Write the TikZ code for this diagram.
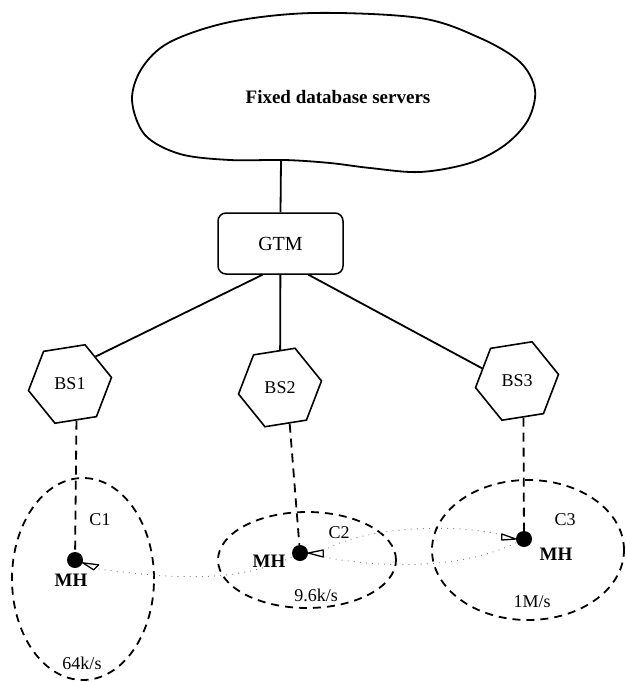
\documentclass[tikz,border=0pt]{standalone}
\usepackage{fontspec}
\setmainfont{Liberation Serif}
\usetikzlibrary{shapes.geometric,calc}

\begin{document}
\begin{tikzpicture}[x=1pt,y=-1pt,
  link/.style={line width=1.8pt},
  radio/.style={line width=1.8pt, dash pattern=on 9pt off 6pt},
  cellring/.style={draw, ellipse, inner sep=0pt, line width=1.8pt,
                   dash pattern=on 8pt off 6pt},
  hexbs/.style={draw, regular polygon, regular polygon sides=6,
                shape border rotate=9, minimum size=84pt, inner sep=0pt,
                line width=1.6pt, font=\fontsize{18}{20}\selectfont},
  mhdot/.style={circle, fill=black, minimum size=16pt, inner sep=0pt},
  mharrow/.style={line width=1.3pt, line join=round},
  track/.style={draw=black!55, line width=1.1pt, line cap=round,
                dash pattern=on 0.1pt off 6pt},
  lbl/.style={inner sep=0pt, font=\fontsize{18}{20}\selectfont},
  lblb/.style={inner sep=0pt, font=\bfseries\fontsize{19}{21}\selectfont}
]
\useasboundingbox (0,0) rectangle (626,682);

% cloud of fixed servers
\draw[link] plot[smooth cycle, tension=0.55] coordinates {
  (313,13) (420,18) (480,38) (520,62) (535,90) (528,120) (505,145)
  (470,163) (420,172) (370,168) (330,163) (285,160) (230,160)
  (180,154) (145,135) (132,100) (142,68) (170,42) (230,22)};
\node[lblb] (fdb) at (338,97) {Fixed database servers};
\coordinate (cloudfoot) at (281,160);

% global transaction manager
\node[draw, rounded corners=8pt, line width=1.5pt, minimum width=125pt,
      minimum height=61pt, inner sep=0pt,
      font=\fontsize{20}{22}\selectfont] (gtm) at (280.5,243.5) {GTM};

% base stations
\node[hexbs] (bs1) at (70,384) {BS1};
\node[hexbs] (bs2) at (280,387.5) {BS2};
\node[hexbs] (bs3) at (517,381) {BS3};

% wired links
\draw[link] (cloudfoot) -- (gtm.north);
\draw[link] ([xshift=-18pt]gtm.south) -- (bs1.47);
\draw[link] (gtm) -- (bs2);
\draw[link] ([xshift=28pt]gtm.south) -- (bs3.160);

% cells
\node[cellring, minimum width=142pt, minimum height=202pt] (c1) at (83,579) {};
\node[cellring, minimum width=178pt, minimum height=96pt] (c2) at (307,560) {};
\node[cellring, minimum width=192pt, minimum height=140pt] (c3) at (528,550) {};

% mobile hosts
\node[mhdot] (mh1) at (75,560) {};
\node[mhdot] (mh2) at (300,553) {};
\node[mhdot] (mh3) at (524,539) {};

% wireless links
\draw[radio] (bs1.-80) -- (mh1);
\draw[radio] (bs2.-75) -- (mh2);
\draw[radio] (bs3.-80) -- (mh3);

% direction marks on the hosts
\draw[mharrow] (mh1.-20) -- ++(16,2) -- ++(-5,5) -- cycle;
\draw[mharrow] (mh2.east) -- ++(15,-3) -- ++(0,7) -- cycle;
\draw[mharrow] (mh3.west) -- ++(-14,-5) -- ++(0,6) -- cycle;
\coordinate (t1) at (99,569);
\coordinate (t2) at (323,551);
\coordinate (t2b) at (324,557);
\coordinate (t3) at (502,535);

% movement tracks
\draw[track] (t1) .. controls (180,580) and (240,582) .. (mh2);
\draw[track] (t2) .. controls (360,528) and (450,522) .. (t3);
\draw[track] (t2b) .. controls (380,568) and (460,570) .. (mh3);

% labels
\node[lbl]  (lc1)  at (100,520) {C1};
\node[lblb] (lmh1) at (71,580)  {MH};
\node[lbl]  (r1)   at (82,663)  {64k/s};
\node[lbl]  (lc2)  at (339,533) {C2};
\node[lblb] (lmh2) at (269,561) {MH};
\node[lbl]  (r2)   at (316,595) {9.6k/s};
\node[lbl]  (lc3)  at (565,520) {C3};
\node[lblb] (lmh3) at (556,554) {MH};
\node[lbl]  (r3)   at (532,602) {1M/s};
\end{tikzpicture}
\end{document}
